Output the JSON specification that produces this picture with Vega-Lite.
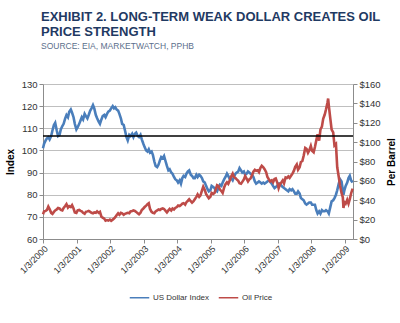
{
 "$schema": "https://vega.github.io/schema/vega-lite/v6.json",
 "width": 310,
 "height": 155,
 "autosize": {"type": "none"},
 "padding": {"left": 43, "top": 84, "right": 47, "bottom": 84},
 "background": "white",
 "config": {"view": {"stroke": null}, "font": "Liberation Sans", "axis": {"labelOverlap": false, "labelFlush": false}},
 "title": {
  "text": ["EXHIBIT 2. LONG-TERM WEAK DOLLAR CREATES OIL", "PRICE STRENGTH"],
  "subtitle": "SOURCE: EIA, MARKETWATCH, PPHB",
  "anchor": "start", "frame": "group", "dx": -2,
  "fontSize": 13, "fontWeight": "bold", "color": "#1F3A63", "lineHeight": 15,
  "subtitleFontSize": 8.5, "subtitleColor": "#5B6F8C", "subtitlePadding": 3,
  "offset": 29
 },
 "datasets": {"series": [
{"d":"2000-01-03","u":101.0,"o":25.5},{"d":"2000-01-15","u":103.0,"o":28.5},{"d":"2000-02-01","u":104.5,"o":29.0},{"d":"2000-02-15","u":105.5,"o":30.0},
{"d":"2000-03-01","u":106.0,"o":33.5},{"d":"2000-03-15","u":105.0,"o":31.0},{"d":"2000-04-01","u":106.5,"o":27.0},{"d":"2000-04-15","u":109.0,"o":26.0},
{"d":"2000-05-01","u":111.5,"o":28.0},{"d":"2000-05-15","u":112.5,"o":29.5},{"d":"2000-06-01","u":109.0,"o":30.5},{"d":"2000-06-15","u":106.5,"o":32.0},
{"d":"2000-07-01","u":107.0,"o":31.5},{"d":"2000-07-15","u":109.5,"o":30.0},{"d":"2000-08-01","u":111.0,"o":29.5},{"d":"2000-08-15","u":112.0,"o":32.0},
{"d":"2000-09-01","u":114.5,"o":34.0},{"d":"2000-09-15","u":116.0,"o":36.0},{"d":"2000-10-01","u":115.0,"o":32.5},{"d":"2000-10-15","u":117.5,"o":34.0},
{"d":"2000-11-01","u":118.5,"o":33.0},{"d":"2000-11-15","u":117.0,"o":35.0},{"d":"2000-12-01","u":115.0,"o":31.5},{"d":"2000-12-15","u":112.0,"o":27.5},
{"d":"2001-01-01","u":109.5,"o":27.0},{"d":"2001-01-15","u":110.5,"o":29.5},{"d":"2001-02-01","u":112.0,"o":30.0},{"d":"2001-02-15","u":113.5,"o":29.0},
{"d":"2001-03-01","u":115.0,"o":28.5},{"d":"2001-03-15","u":114.0,"o":27.0},{"d":"2001-04-01","u":116.5,"o":26.0},{"d":"2001-04-15","u":115.5,"o":28.0},
{"d":"2001-05-01","u":114.5,"o":28.5},{"d":"2001-05-15","u":116.0,"o":29.0},{"d":"2001-06-01","u":118.0,"o":28.0},{"d":"2001-06-15","u":119.0,"o":27.0},
{"d":"2001-07-01","u":120.5,"o":26.5},{"d":"2001-07-15","u":119.0,"o":27.5},{"d":"2001-08-01","u":116.0,"o":27.0},{"d":"2001-08-15","u":114.5,"o":28.5},
{"d":"2001-09-01","u":113.0,"o":27.0},{"d":"2001-09-15","u":112.0,"o":28.0},{"d":"2001-10-01","u":114.0,"o":23.0},{"d":"2001-10-15","u":115.5,"o":22.0},
{"d":"2001-11-01","u":116.0,"o":21.0},{"d":"2001-11-15","u":115.0,"o":19.0},{"d":"2001-12-01","u":116.5,"o":19.5},{"d":"2001-12-15","u":117.5,"o":19.0},
{"d":"2002-01-01","u":118.0,"o":20.0},{"d":"2002-01-15","u":119.0,"o":18.8},{"d":"2002-02-01","u":120.0,"o":20.0},{"d":"2002-02-15","u":119.0,"o":21.0},
{"d":"2002-03-01","u":119.5,"o":22.5},{"d":"2002-03-15","u":118.5,"o":24.5},{"d":"2002-04-01","u":118.0,"o":26.5},{"d":"2002-04-15","u":116.5,"o":25.0},
{"d":"2002-05-01","u":114.5,"o":27.0},{"d":"2002-05-15","u":112.0,"o":26.5},{"d":"2002-06-01","u":111.5,"o":25.0},{"d":"2002-06-15","u":109.0,"o":26.0},
{"d":"2002-07-01","u":106.0,"o":26.5},{"d":"2002-07-15","u":104.5,"o":27.0},{"d":"2002-08-01","u":107.0,"o":26.5},{"d":"2002-08-15","u":106.5,"o":28.5},
{"d":"2002-09-01","u":107.5,"o":29.0},{"d":"2002-09-15","u":106.0,"o":29.5},{"d":"2002-10-01","u":107.5,"o":29.0},{"d":"2002-10-15","u":108.0,"o":28.0},
{"d":"2002-11-01","u":106.5,"o":26.5},{"d":"2002-11-15","u":106.0,"o":25.5},{"d":"2002-12-01","u":107.0,"o":27.0},{"d":"2002-12-15","u":105.0,"o":30.0},
{"d":"2003-01-01","u":103.0,"o":31.5},{"d":"2003-01-15","u":101.5,"o":33.0},{"d":"2003-02-01","u":100.0,"o":34.5},{"d":"2003-02-15","u":99.5,"o":36.0},
{"d":"2003-03-01","u":100.5,"o":37.0},{"d":"2003-03-15","u":99.0,"o":31.0},{"d":"2003-04-01","u":99.5,"o":28.0},{"d":"2003-04-15","u":98.0,"o":27.0},
{"d":"2003-05-01","u":95.0,"o":26.5},{"d":"2003-05-15","u":93.0,"o":28.5},{"d":"2003-06-01","u":92.5,"o":29.5},{"d":"2003-06-15","u":93.5,"o":30.5},
{"d":"2003-07-01","u":95.5,"o":30.0},{"d":"2003-07-15","u":97.0,"o":31.0},{"d":"2003-08-01","u":96.5,"o":31.5},{"d":"2003-08-15","u":97.5,"o":31.0},
{"d":"2003-09-01","u":95.0,"o":29.0},{"d":"2003-09-15","u":93.0,"o":27.5},{"d":"2003-10-01","u":91.0,"o":29.5},{"d":"2003-10-15","u":91.5,"o":31.0},
{"d":"2003-11-01","u":90.0,"o":29.5},{"d":"2003-11-15","u":89.5,"o":31.5},{"d":"2003-12-01","u":88.0,"o":30.5},{"d":"2003-12-15","u":87.0,"o":32.0},
{"d":"2004-01-01","u":86.5,"o":33.0},{"d":"2004-01-15","u":85.5,"o":34.5},{"d":"2004-02-01","u":86.5,"o":34.0},{"d":"2004-02-15","u":85.0,"o":35.0},
{"d":"2004-03-01","u":87.5,"o":36.5},{"d":"2004-03-15","u":88.5,"o":37.0},{"d":"2004-04-01","u":88.0,"o":35.5},{"d":"2004-04-15","u":89.5,"o":38.0},
{"d":"2004-05-01","u":90.5,"o":39.5},{"d":"2004-05-15","u":91.0,"o":41.0},{"d":"2004-06-01","u":89.0,"o":39.0},{"d":"2004-06-15","u":88.5,"o":37.5},
{"d":"2004-07-01","u":87.5,"o":39.0},{"d":"2004-07-15","u":87.5,"o":41.0},{"d":"2004-08-01","u":89.0,"o":43.5},{"d":"2004-08-15","u":88.0,"o":46.0},
{"d":"2004-09-01","u":89.0,"o":43.5},{"d":"2004-09-15","u":88.5,"o":45.0},{"d":"2004-10-01","u":87.5,"o":50.0},{"d":"2004-10-15","u":86.0,"o":54.0},
{"d":"2004-11-01","u":85.5,"o":50.5},{"d":"2004-11-15","u":84.0,"o":46.5},{"d":"2004-12-01","u":82.5,"o":44.0},{"d":"2004-12-15","u":81.5,"o":42.0},
{"d":"2005-01-01","u":82.0,"o":43.5},{"d":"2005-01-15","u":84.0,"o":47.5},{"d":"2005-02-01","u":83.5,"o":46.5},{"d":"2005-02-15","u":83.0,"o":47.5},
{"d":"2005-03-01","u":82.0,"o":51.5},{"d":"2005-03-15","u":81.5,"o":55.5},{"d":"2005-04-01","u":83.5,"o":54.5},{"d":"2005-04-15","u":84.5,"o":51.0},
{"d":"2005-05-01","u":84.0,"o":49.5},{"d":"2005-05-15","u":85.5,"o":47.5},{"d":"2005-06-01","u":87.0,"o":53.5},{"d":"2005-06-15","u":88.0,"o":56.5},
{"d":"2005-07-01","u":89.5,"o":58.5},{"d":"2005-07-15","u":88.5,"o":57.0},{"d":"2005-08-01","u":87.0,"o":60.5},{"d":"2005-08-15","u":87.5,"o":64.5},
{"d":"2005-09-01","u":86.5,"o":67.5},{"d":"2005-09-15","u":88.0,"o":64.0},{"d":"2005-10-01","u":89.5,"o":63.0},{"d":"2005-10-15","u":90.0,"o":61.5},
{"d":"2005-11-01","u":90.5,"o":60.0},{"d":"2005-11-15","u":92.0,"o":57.5},{"d":"2005-12-01","u":91.0,"o":57.0},{"d":"2005-12-15","u":90.0,"o":59.0},
{"d":"2006-01-01","u":90.5,"o":61.5},{"d":"2006-01-15","u":89.0,"o":65.0},{"d":"2006-02-01","u":89.5,"o":62.0},{"d":"2006-02-15","u":90.5,"o":59.5},
{"d":"2006-03-01","u":90.0,"o":61.5},{"d":"2006-03-15","u":89.5,"o":62.5},{"d":"2006-04-01","u":89.0,"o":66.0},{"d":"2006-04-15","u":88.0,"o":69.5},
{"d":"2006-05-01","u":86.0,"o":71.5},{"d":"2006-05-15","u":85.0,"o":70.5},{"d":"2006-06-01","u":85.5,"o":71.0},{"d":"2006-06-15","u":86.0,"o":69.0},
{"d":"2006-07-01","u":85.5,"o":73.5},{"d":"2006-07-15","u":85.0,"o":75.5},{"d":"2006-08-01","u":85.5,"o":74.0},{"d":"2006-08-15","u":85.0,"o":72.0},
{"d":"2006-09-01","u":85.5,"o":69.0},{"d":"2006-09-15","u":86.0,"o":64.0},{"d":"2006-10-01","u":86.5,"o":61.5},{"d":"2006-10-15","u":86.0,"o":59.5},
{"d":"2006-11-01","u":85.0,"o":60.5},{"d":"2006-11-15","u":84.0,"o":58.5},{"d":"2006-12-01","u":83.0,"o":62.0},{"d":"2006-12-15","u":83.5,"o":62.5},
{"d":"2007-01-01","u":84.0,"o":58.0},{"d":"2007-01-15","u":85.0,"o":52.5},{"d":"2007-02-01","u":85.0,"o":57.0},{"d":"2007-02-15","u":84.0,"o":58.5},
{"d":"2007-03-01","u":83.5,"o":60.5},{"d":"2007-03-15","u":83.0,"o":57.5},{"d":"2007-04-01","u":82.5,"o":63.5},{"d":"2007-04-15","u":82.0,"o":63.0},
{"d":"2007-05-01","u":81.5,"o":64.5},{"d":"2007-05-15","u":82.5,"o":63.0},{"d":"2007-06-01","u":82.0,"o":65.5},{"d":"2007-06-15","u":82.5,"o":67.5},
{"d":"2007-07-01","u":81.5,"o":70.5},{"d":"2007-07-15","u":80.5,"o":74.5},{"d":"2007-08-01","u":80.5,"o":77.0},{"d":"2007-08-15","u":81.5,"o":71.5},
{"d":"2007-09-01","u":80.5,"o":74.0},{"d":"2007-09-15","u":78.5,"o":79.5},{"d":"2007-10-01","u":78.0,"o":80.5},{"d":"2007-10-15","u":77.5,"o":86.0},
{"d":"2007-11-01","u":76.0,"o":94.0},{"d":"2007-11-15","u":75.5,"o":93.0},{"d":"2007-12-01","u":76.0,"o":89.0},{"d":"2007-12-15","u":76.5,"o":91.5},
{"d":"2008-01-01","u":76.5,"o":96.0},{"d":"2008-01-15","u":75.5,"o":91.0},{"d":"2008-02-01","u":75.5,"o":89.5},{"d":"2008-02-15","u":75.5,"o":95.0},
{"d":"2008-03-01","u":73.0,"o":102.0},{"d":"2008-03-15","u":71.5,"o":108.0},{"d":"2008-04-01","u":72.5,"o":101.5},{"d":"2008-04-15","u":71.5,"o":113.0},
{"d":"2008-05-01","u":73.0,"o":116.0},{"d":"2008-05-15","u":72.5,"o":124.0},{"d":"2008-06-01","u":72.5,"o":128.5},{"d":"2008-06-15","u":73.0,"o":134.0},
{"d":"2008-07-01","u":72.5,"o":141.0},{"d":"2008-07-08","u":72.0,"o":145.0},{"d":"2008-07-15","u":71.5,"o":138.0},{"d":"2008-08-01","u":74.5,"o":124.0},
{"d":"2008-08-15","u":77.0,"o":113.0},{"d":"2008-09-01","u":77.5,"o":110.0},{"d":"2008-09-15","u":78.5,"o":96.5},{"d":"2008-10-01","u":80.0,"o":98.0},
{"d":"2008-10-15","u":82.0,"o":74.0},{"d":"2008-11-01","u":85.0,"o":64.0},{"d":"2008-11-15","u":87.0,"o":55.0},{"d":"2008-12-01","u":86.0,"o":47.5},
{"d":"2008-12-15","u":82.0,"o":43.0},{"d":"2008-12-22","u":80.0,"o":32.0},{"d":"2009-01-01","u":82.0,"o":38.0},{"d":"2009-01-15","u":84.0,"o":36.5},
{"d":"2009-02-01","u":85.5,"o":40.5},{"d":"2009-02-15","u":87.5,"o":36.5},{"d":"2009-03-01","u":88.5,"o":41.0},{"d":"2009-03-15","u":86.5,"o":47.0},
{"d":"2009-04-01","u":85.5,"o":52.0}
 ]},
 "layer": [
  {
   "data": {"name": "series"},
   "mark": {"type": "line", "strokeWidth": 2.6},
   "encoding": {
    "x": {
     "field": "d", "type": "temporal",
     "scale": {"type": "utc", "domain": [{"year": 2000, "month": 1, "date": 3, "utc": true}, {"year": 2009, "month": 4, "date": 5, "utc": true}]},
     "axis": {
      "title": null, "grid": false, "format": "%-m/%-d/%Y", "labelAngle": -45, "labelOverlap": false, "tickCount": 40,
      "values": [
       {"year": 2000, "month": 1, "date": 3, "utc": true}, {"year": 2001, "month": 1, "date": 3, "utc": true},
       {"year": 2002, "month": 1, "date": 3, "utc": true}, {"year": 2003, "month": 1, "date": 3, "utc": true},
       {"year": 2004, "month": 1, "date": 3, "utc": true}, {"year": 2005, "month": 1, "date": 3, "utc": true},
       {"year": 2006, "month": 1, "date": 3, "utc": true}, {"year": 2007, "month": 1, "date": 3, "utc": true},
       {"year": 2008, "month": 1, "date": 3, "utc": true}, {"year": 2009, "month": 1, "date": 3, "utc": true}
      ],
      "labelFontSize": 9, "labelColor": "#333333", "domainColor": "#8C8C8C", "tickColor": "#8C8C8C", "tickSize": 4, "labelPadding": 1
     }
    },
    "y": {"field": "u", "type": "quantitative", "scale": {"domain": [60, 130], "zero": false},
     "axis": {"title": "Index", "values": [60, 70, 80, 90, 100, 110, 120, 130], "grid": true, "gridColor": "#BFBFBF", "labelOverlap": false,
      "labelFontSize": 9.5, "labelColor": "#333333", "domainColor": "#8C8C8C", "tickColor": "#8C8C8C", "tickSize": 4,
      "titleFontSize": 10, "titleFontWeight": "bold", "titleColor": "#000000", "titlePadding": 6}},
    "color": {"datum": "US Dollar Index", "scale": {"domain": ["US Dollar Index", "Oil Price"], "range": ["#4A7EBB", "#BE4B48"]},
     "legend": {"title": null, "orient": "none", "legendX": 86, "legendY": 203, "direction": "horizontal", "symbolType": "stroke",
      "symbolSize": 380, "symbolStrokeWidth": 1.5, "labelFontSize": 8, "labelColor": "#333333", "columnPadding": 5, "labelOffset": 3}}
   }
  },
  {
   "layer": [
    {
     "data": {"name": "series"},
     "mark": {"type": "line", "strokeWidth": 2.6},
     "encoding": {
      "x": {"field": "d", "type": "temporal"},
      "y": {"field": "o", "type": "quantitative", "scale": {"domain": [0, 160]},
       "axis": {"orient": "right", "title": "Per Barrel", "titleAngle": 270, "format": "$.0f", "values": [0, 20, 40, 60, 80, 100, 120, 140, 160], "tickCount": 40, "grid": false, "labelOverlap": false,
        "labelFontSize": 9.5, "labelColor": "#333333", "domainColor": "#8C8C8C", "tickColor": "#8C8C8C", "tickSize": 4,
        "titleFontSize": 10, "titleFontWeight": "bold", "titleColor": "#000000", "titlePadding": 16}},
      "color": {"datum": "Oil Price"}
     }
    },
    {
     "data": {"values": [{}]},
     "mark": {"type": "rule", "color": "#000000", "strokeWidth": 1.5},
     "encoding": {"y": {"datum": 106.3, "type": "quantitative"}}
    }
   ]
  }
 ],
 "resolve": {"scale": {"y": "independent"}}
}
